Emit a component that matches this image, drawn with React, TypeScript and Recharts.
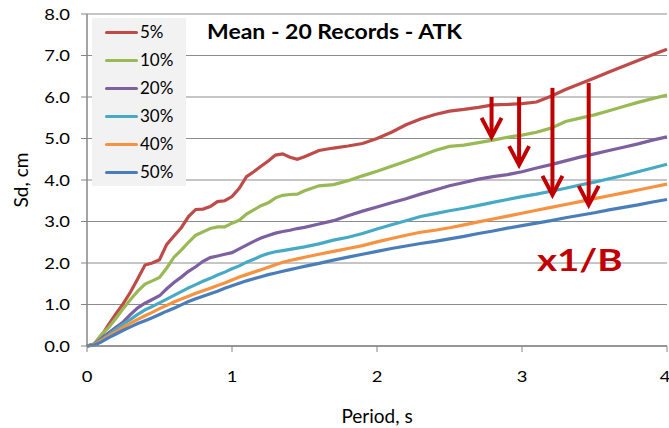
import React from 'react';
import { LineChart, Line, XAxis, YAxis, CartesianGrid, ReferenceLine, Label } from 'recharts';

const periods = [0, 0.05, 0.1, 0.15, 0.2, 0.25, 0.3, 0.35, 0.4, 0.45, 0.5, 0.55, 0.6, 0.65, 0.7, 0.75, 0.8, 0.85, 0.9, 0.95, 1.0, 1.05, 1.1, 1.15, 1.2, 1.25, 1.3, 1.35, 1.4, 1.45, 1.5, 1.6, 1.7, 1.8, 1.9, 2.0, 2.1, 2.2, 2.3, 2.4, 2.5, 2.6, 2.7, 2.8, 2.9, 3.0, 3.1, 3.2, 3.3, 3.4, 3.5, 3.6, 3.7, 3.8, 3.9, 4.0];

const sd5 = [0, 0.05, 0.25, 0.52, 0.78, 1.02, 1.3, 1.62, 1.95, 2.0, 2.08, 2.45, 2.65, 2.85, 3.12, 3.29, 3.3, 3.36, 3.48, 3.5, 3.6, 3.8, 4.08, 4.2, 4.33, 4.46, 4.6, 4.63, 4.55, 4.5, 4.56, 4.71, 4.77, 4.82, 4.88, 5.0, 5.15, 5.33, 5.47, 5.58, 5.66, 5.7, 5.75, 5.81, 5.82, 5.84, 5.88, 6.02, 6.18, 6.32, 6.46, 6.6, 6.74, 6.88, 7.02, 7.15];
const sd10 = [0, 0.05, 0.28, 0.45, 0.67, 0.9, 1.12, 1.32, 1.49, 1.57, 1.65, 1.88, 2.14, 2.31, 2.5, 2.67, 2.75, 2.83, 2.87, 2.87, 2.96, 3.03, 3.18, 3.28, 3.38, 3.45, 3.57, 3.63, 3.65, 3.66, 3.74, 3.86, 3.89, 3.98, 4.1, 4.21, 4.33, 4.45, 4.58, 4.71, 4.81, 4.84, 4.9, 4.96, 5.03, 5.08, 5.15, 5.25, 5.41, 5.49, 5.57, 5.67, 5.77, 5.87, 5.96, 6.05];
const sd20 = [0, 0.04, 0.18, 0.32, 0.45, 0.58, 0.76, 0.92, 1.03, 1.12, 1.21, 1.38, 1.53, 1.66, 1.8, 1.91, 2.04, 2.13, 2.17, 2.21, 2.25, 2.34, 2.43, 2.52, 2.6, 2.66, 2.72, 2.76, 2.79, 2.83, 2.86, 2.94, 3.02, 3.14, 3.25, 3.35, 3.45, 3.55, 3.66, 3.76, 3.86, 3.94, 4.02, 4.08, 4.13, 4.2, 4.29, 4.37, 4.46, 4.55, 4.63, 4.71, 4.79, 4.87, 4.96, 5.04];
const sd30 = [0, 0.04, 0.15, 0.27, 0.4, 0.53, 0.64, 0.76, 0.87, 0.95, 1.04, 1.13, 1.22, 1.31, 1.4, 1.48, 1.56, 1.63, 1.71, 1.78, 1.86, 1.93, 2.02, 2.09, 2.17, 2.23, 2.27, 2.3, 2.33, 2.36, 2.39, 2.46, 2.55, 2.62, 2.71, 2.82, 2.92, 3.02, 3.12, 3.19, 3.26, 3.32, 3.39, 3.46, 3.53, 3.6, 3.66, 3.73, 3.8, 3.88, 3.95, 4.03, 4.11, 4.2, 4.29, 4.38];
const sd40 = [0, 0.03, 0.13, 0.24, 0.34, 0.45, 0.55, 0.64, 0.73, 0.81, 0.9, 0.98, 1.06, 1.13, 1.2, 1.27, 1.33, 1.39, 1.46, 1.52, 1.59, 1.66, 1.72, 1.78, 1.84, 1.9, 1.96, 2.02, 2.06, 2.1, 2.14, 2.21, 2.28, 2.35, 2.42, 2.51, 2.59, 2.67, 2.74, 2.79, 2.85, 2.92, 2.99, 3.06, 3.13, 3.2, 3.27, 3.34, 3.41, 3.48, 3.55, 3.62, 3.69, 3.76, 3.83, 3.9];
const sd50 = [0, 0.02, 0.1, 0.2, 0.29, 0.38, 0.46, 0.54, 0.61, 0.68, 0.76, 0.84, 0.91, 0.99, 1.07, 1.14, 1.2, 1.26, 1.32, 1.39, 1.45, 1.51, 1.57, 1.62, 1.67, 1.72, 1.76, 1.8, 1.84, 1.88, 1.92, 1.99, 2.07, 2.14, 2.21, 2.28, 2.35, 2.41, 2.47, 2.52, 2.58, 2.64, 2.71, 2.77, 2.84, 2.9, 2.96, 3.02, 3.09, 3.15, 3.21, 3.28, 3.34, 3.4, 3.47, 3.53];

const seriesNames = ['5%', '10%', '20%', '30%', '40%', '50%'];
const seriesKeys = ['sd5', 'sd10', 'sd20', 'sd30', 'sd40', 'sd50'];
const seriesValues = [sd5, sd10, sd20, sd30, sd40, sd50];
const seriesColors = ['#BE4B48', '#98B954', '#7D60A0', '#46AAC5', '#F69240', '#4A7EBB'];

const xTicks = [0, 1, 2, 3, 4];
const yTicks = [0, 1, 2, 3, 4, 5, 6, 7, 8];

// annotation arrows: period, start Sd, end Sd
const arrowX = [2.79, 2.98, 3.21, 3.46];
const arrowTop = [6.0, 6.0, 6.22, 6.34];
const arrowTip = [5.04, 4.36, 3.64, 3.4];

const data = periods.map((p, i) => {
  const row: any = { x: p };
  seriesKeys.forEach((k, j) => { row[k] = seriesValues[j][i]; });
  return row;
});

const FONT = 'Lato, "Open Sans", sans-serif';
const AXIS_GRAY = '#868686';
const ANN_RED = '#C00000';

const ArrowShape = (props: any) => {
  const { x1, y1, x2, y2 } = props;
  const hw = 10;
  const hh = 19;
  return (
    <g>
      <line x1={x1} y1={y1} x2={x2} y2={y2 - 2} stroke={ANN_RED} strokeWidth={4} />
      <polyline
        points={`${x2 - hw},${y2 - hh} ${x2},${y2} ${x2 + hw},${y2 - hh}`}
        fill="none"
        stroke={ANN_RED}
        strokeWidth={4}
        strokeLinejoin="miter"
      />
    </g>
  );
};

const LegendBox = () => (
  <div style={{ position: 'absolute', left: 92, top: 18, width: 94, height: 168, background: '#F2F2F2', fontFamily: FONT }}>
    {seriesNames.map((name, i) => (
      <div key={name} style={{ position: 'absolute', left: 13, top: 14 + 28 * i, height: 0 }}>
        <div style={{ position: 'absolute', left: 0, top: -1.5, width: 33, height: 3, background: seriesColors[i], borderRadius: 1.5 }} />
        <div style={{ position: 'absolute', left: 35, top: -10, fontSize: 17, lineHeight: '20px', color: '#000', whiteSpace: 'nowrap' }}>{name}</div>
      </div>
    ))}
  </div>
);

const YTick = (props: any) => {
  const { x, y, payload } = props;
  return (
    <text x={x} y={y} dy="0.35em" textAnchor="end" fill="#000" fontSize={16} fontFamily={FONT}
      transform={`translate(${x},${y}) scale(1.15,1) translate(${-x},${-y})`}>
      {Number(payload.value).toFixed(1)}
    </text>
  );
};

const XTick = (props: any) => {
  const { x, y, payload } = props;
  return (
    <text x={x} y={y} dy="0.71em" textAnchor="middle" fill="#000" fontSize={16} fontFamily={FONT}
      transform={`translate(${x},${y}) scale(1.15,1) translate(${-x},${-y})`}>
      {payload.value}
    </text>
  );
};

export default function App() {
  return (
    <div style={{ position: 'absolute', left: 0, top: 0, width: 669, height: 428, background: '#fff' }}>
      <LineChart width={669} height={428} data={data} margin={{ top: 14, right: 2, bottom: 0, left: 0 }}>
        <CartesianGrid vertical={false} stroke="#8C8C8C" strokeWidth={1} />
        <XAxis
          dataKey="x"
          type="number"
          domain={[0, 4]}
          ticks={xTicks}
          height={82}
          tickSize={6}
          tickMargin={19}
          tick={<XTick />}
          axisLine={{ stroke: AXIS_GRAY, strokeWidth: 1.5 }}
          tickLine={{ stroke: AXIS_GRAY }}
        >
          <Label value="Period, s" position="insideBottom" offset={5} style={{ fontSize: 19, fontFamily: FONT, fill: '#000' }} />
        </XAxis>
        <YAxis
          type="number"
          domain={[0, 8]}
          ticks={yTicks}
          width={87}
          tickSize={6}
          tickMargin={11}
          tick={<YTick />}
          axisLine={{ stroke: AXIS_GRAY, strokeWidth: 1.5 }}
          tickLine={{ stroke: AXIS_GRAY }}
        >
          <Label value="Sd, cm" angle={-90} position="insideLeft" offset={21} style={{ fontSize: 19, fontFamily: FONT, fill: '#000', textAnchor: 'middle' }} />
        </YAxis>
        {seriesKeys.map((k, j) => (
          <Line
            key={k}
            type="linear"
            dataKey={k}
            name={seriesNames[j]}
            stroke={seriesColors[j]}
            strokeWidth={3.2}
            dot={false}
            isAnimationActive={false}
          />
        ))}
        {arrowX.map((ax, i) => (
          <ReferenceLine
            key={`arrow${i}`}
            segment={[{ x: ax, y: arrowTop[i] }, { x: ax, y: arrowTip[i] }]}
            shape={<ArrowShape />}
            ifOverflow="visible"
          />
        ))}
      </LineChart>
      <LegendBox />
      <div style={{ position: 'absolute', left: 207, top: 20, fontFamily: FONT, fontWeight: 700, fontSize: 20, lineHeight: '22px', color: '#000', whiteSpace: 'nowrap', transform: 'scaleX(1.15)', transformOrigin: 'left center' }}>
        Mean - 20 Records - ATK
      </div>
      <div style={{ position: 'absolute', left: 537, top: 241, fontFamily: FONT, fontWeight: 700, fontSize: 31, lineHeight: '36px', color: ANN_RED, whiteSpace: 'nowrap', transform: 'scaleX(1.24)', transformOrigin: 'left center' }}>
        x1/B
      </div>
    </div>
  );
}
